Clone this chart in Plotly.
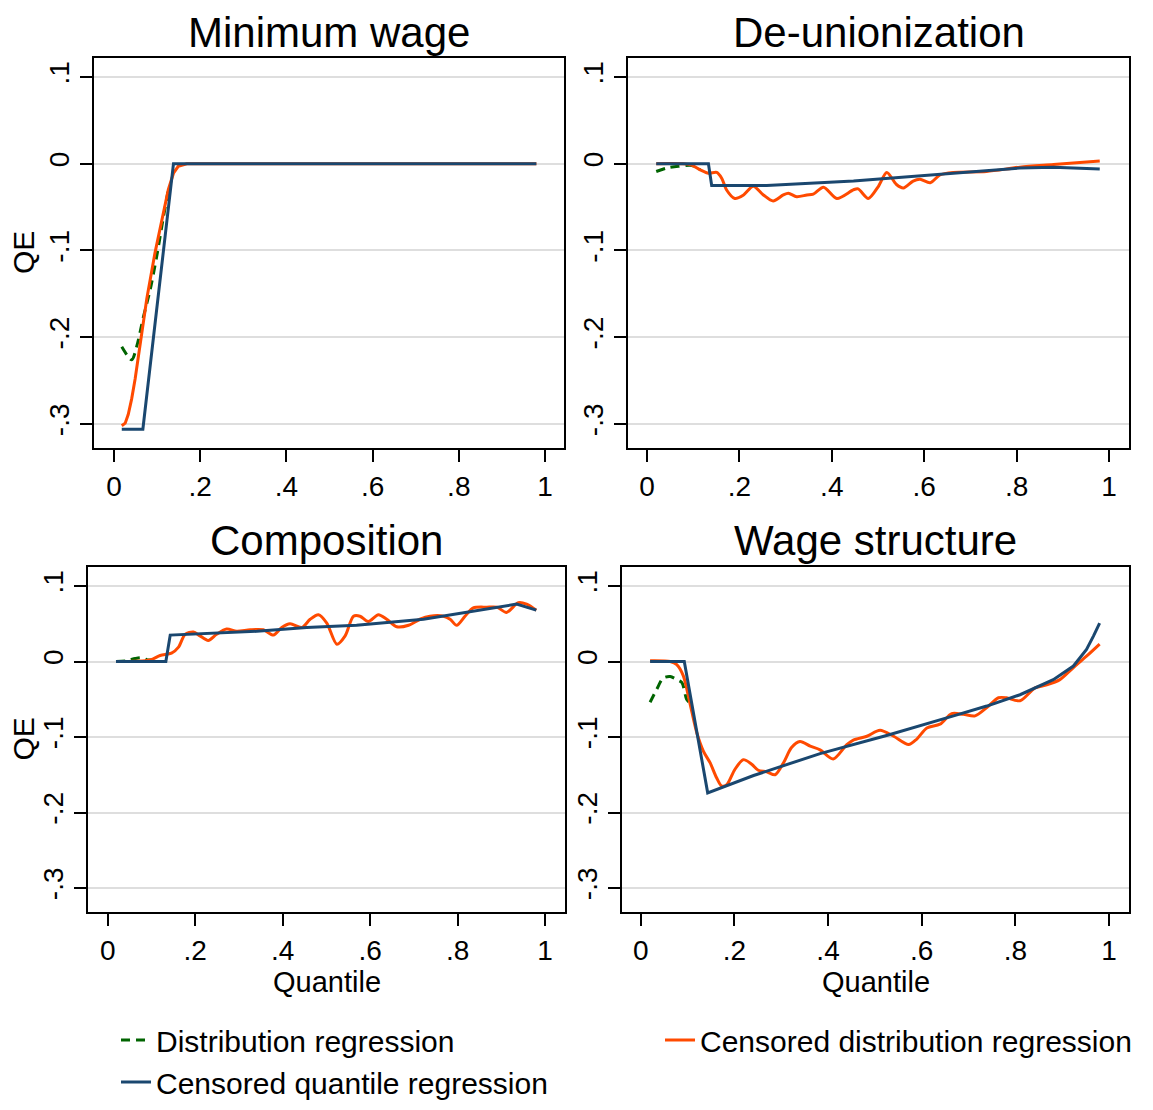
import plotly.graph_objects as go

# ---------------- data (quantile, QE) ----------------
# Panel 1: Minimum wage
mw_dr_q = [0.018, 0.041, 0.053, 0.068, 0.084, 0.099, 0.111, 0.126]
mw_dr_v = [-0.211, -0.226, -0.210, -0.177, -0.145, -0.107, -0.072, -0.030]
mw_cdr_q = [0.018, 0.026, 0.033, 0.041, 0.049, 0.060, 0.076, 0.095, 0.111, 0.126, 0.138, 0.149, 0.169, 0.98]
mw_cdr_v = [-0.302, -0.299, -0.289, -0.271, -0.248, -0.210, -0.156, -0.103, -0.064, -0.030, -0.011, -0.003, 0.0, 0.0]
mw_cqr_q = [0.018, 0.067, 0.138, 0.98]
mw_cqr_v = [-0.306, -0.306, 0.0, 0.0]

# Panel 2: De-unionization
du_dr_q = [0.020, 0.043, 0.068, 0.097, 0.115]
du_dr_v = [-0.009, -0.005, -0.003, -0.002, -0.007]
du_cdr_q = [0.020, 0.093, 0.115, 0.133, 0.151, 0.162, 0.172, 0.190, 0.209, 0.230, 0.252, 0.273,
            0.295, 0.306, 0.324, 0.346, 0.360, 0.382, 0.411, 0.447, 0.457, 0.479, 0.501, 0.519,
            0.540, 0.555, 0.576, 0.591, 0.613, 0.634, 0.663, 0.735, 0.807, 0.880, 0.98]
du_cdr_v = [0.0, -0.001, -0.007, -0.011, -0.010, -0.017, -0.030, -0.040, -0.036, -0.026, -0.036, -0.043,
            -0.036, -0.034, -0.038, -0.036, -0.035, -0.027, -0.040, -0.030, -0.029, -0.040, -0.026, -0.010,
            -0.024, -0.028, -0.020, -0.018, -0.022, -0.013, -0.010, -0.009, -0.004, -0.001, 0.003]
du_cqr_q = [0.020, 0.133, 0.140, 0.259, 0.447, 0.634, 0.807, 0.880, 0.98]
du_cqr_v = [0.0, 0.0, -0.025, -0.025, -0.020, -0.012, -0.005, -0.004, -0.006]

# Panel 3: Composition
co_dr_q = [0.019, 0.043, 0.063, 0.078, 0.093, 0.100]
co_dr_v = [0.0, 0.001, 0.004, 0.005, 0.002, 0.002]
co_cdr_q = [0.019, 0.097, 0.120, 0.146, 0.162, 0.177, 0.196, 0.211, 0.230, 0.249, 0.272, 0.295,
            0.326, 0.356, 0.379, 0.398, 0.417, 0.444, 0.463, 0.482, 0.501, 0.524, 0.543, 0.562,
            0.577, 0.596, 0.619, 0.638, 0.661, 0.688, 0.714, 0.737, 0.768, 0.783, 0.798, 0.817,
            0.836, 0.867, 0.890, 0.912, 0.939, 0.958, 0.98]
co_cdr_v = [0.0, 0.002, 0.008, 0.011, 0.019, 0.036, 0.039, 0.034, 0.028, 0.036, 0.043, 0.040,
            0.042, 0.042, 0.035, 0.045, 0.050, 0.045, 0.056, 0.062, 0.051, 0.023, 0.034, 0.060,
            0.060, 0.053, 0.062, 0.056, 0.046, 0.048, 0.056, 0.060, 0.060, 0.056, 0.048, 0.060,
            0.071, 0.072, 0.072, 0.065, 0.078, 0.076, 0.068]
co_cqr_q = [0.019, 0.133, 0.143, 0.341, 0.455, 0.569, 0.722, 0.821, 0.874, 0.935, 0.98]
co_cqr_v = [0.0, 0.0, 0.035, 0.040, 0.045, 0.048, 0.056, 0.065, 0.070, 0.076, 0.068]

# Panel 4: Wage structure
ws_dr_q = [0.020, 0.034, 0.048, 0.063, 0.077, 0.088, 0.098, 0.105]
ws_dr_v = [-0.054, -0.037, -0.022, -0.020, -0.024, -0.028, -0.050, -0.055]
ws_cdr_q = [0.020, 0.063, 0.077, 0.091, 0.105, 0.120, 0.134, 0.148, 0.162, 0.173, 0.184, 0.201,
            0.219, 0.237, 0.251, 0.269, 0.287, 0.305, 0.322, 0.340, 0.362, 0.383, 0.411, 0.440,
            0.454, 0.483, 0.511, 0.540, 0.572, 0.589, 0.611, 0.639, 0.664, 0.689, 0.714, 0.739,
            0.764, 0.781, 0.810, 0.842, 0.867, 0.895, 0.924, 0.952, 0.98]
ws_cdr_v = [0.001, 0.0, -0.004, -0.019, -0.055, -0.095, -0.119, -0.134, -0.154, -0.165, -0.163, -0.143,
            -0.130, -0.136, -0.144, -0.146, -0.150, -0.134, -0.114, -0.106, -0.112, -0.117, -0.129, -0.110,
            -0.104, -0.099, -0.091, -0.099, -0.110, -0.103, -0.088, -0.083, -0.069, -0.070, -0.072, -0.061,
            -0.048, -0.048, -0.052, -0.035, -0.031, -0.024, -0.008, 0.007, 0.023]
ws_cqr_q = [0.020, 0.093, 0.143, 0.241, 0.383, 0.525, 0.668, 0.739, 0.810, 0.881, 0.924, 0.952, 0.967, 0.98]
ws_cqr_v = [0.0, 0.0, -0.174, -0.151, -0.122, -0.098, -0.072, -0.059, -0.044, -0.024, -0.006, 0.016, 0.034, 0.051]

panel_titles = ["Minimum wage", "De-unionization", "Composition", "Wage structure"]
series_names = ["Distribution regression", "Censored distribution regression", "Censored quantile regression"]
x_tickvals = [0, 0.2, 0.4, 0.6, 0.8, 1]
x_ticktext = ["0", ".2", ".4", ".6", ".8", "1"]
y_tickvals = [0.1, 0, -0.1, -0.2, -0.3]
y_ticktext = [".1", "0", "-.1", "-.2", "-.3"]

# ---------------- geometry ----------------
# The page body has an 8px margin, so the figure is shrunk and all page
# positions are converted into figure coordinates.
OFF = 8
W, H = 1153 - 2 * OFF, 1110 - 2 * OFF


def px(p):
    return (p - OFF) / W


def py(p):
    return 1 - (p - OFF) / H


FONT = "Liberation Sans, Arial, Helvetica, sans-serif"
C_DR = "#006400"
C_CDR = "#ff4a00"
C_CQR = "#1a476f"
LW = 3

panels = [
    (mw_dr_q, mw_dr_v, mw_cdr_q, mw_cdr_v, mw_cqr_q, mw_cqr_v, "linear"),
    (du_dr_q, du_dr_v, du_cdr_q, du_cdr_v, du_cqr_q, du_cqr_v, "spline"),
    (co_dr_q, co_dr_v, co_cdr_q, co_cdr_v, co_cqr_q, co_cqr_v, "spline"),
    (ws_dr_q, ws_dr_v, ws_cdr_q, ws_cdr_v, ws_cqr_q, ws_cqr_v, "spline"),
]

fig = go.Figure()
legends = ["legend", "legend2", "legend3"]
for i, (dq, dv, cq, cv, qq, qv, shp) in enumerate(panels):
    ax = "" if i == 0 else str(i + 1)
    fig.add_trace(go.Scatter(x=dq, y=dv, mode="lines", name=series_names[0],
                             line=dict(color=C_DR, width=LW, dash="9px,6px", shape="spline", smoothing=0.8),
                             xaxis="x" + ax, yaxis="y" + ax, showlegend=(i == 0), legend=legends[0]))
    fig.add_trace(go.Scatter(x=cq, y=cv, mode="lines", name=series_names[1],
                             line=dict(color=C_CDR, width=LW, shape=shp, smoothing=0.8),
                             xaxis="x" + ax, yaxis="y" + ax, showlegend=(i == 0), legend=legends[1]))
    fig.add_trace(go.Scatter(x=qq, y=qv, mode="lines", name=series_names[2],
                             line=dict(color=C_CQR, width=LW),
                             xaxis="x" + ax, yaxis="y" + ax, showlegend=(i == 0), legend=legends[2]))

# panel frames in page pixels: (left, right, top, bottom), x-range, y-range
frames = [
    ((94, 564, 58, 448), [-0.0464, 1.0441], [-0.3276, 0.1218]),
    ((628, 1129, 58, 448), [-0.0411, 1.0433], [-0.3276, 0.1218]),
    ((88, 565, 567, 912), [-0.045, 1.0457], [-0.3318, 0.1252]),
    ((622, 1129, 567, 912), [-0.040, 1.0427], [-0.3318, 0.1252]),
]

layout = dict(
    width=W, height=H,
    margin=dict(l=0, r=0, t=0, b=0, pad=0, autoexpand=False),
    paper_bgcolor="white", plot_bgcolor="white",
    font=dict(family=FONT, size=30, color="black"),
    showlegend=True,
)
axis_common = dict(showline=True, linecolor="black", linewidth=2, mirror=True,
                   ticks="outside", ticklen=12, tickwidth=2, tickcolor="black",
                   zeroline=False, tickfont=dict(family=FONT, size=28, color="black"))
for i, ((l, r, t, b), xr, yr) in enumerate(frames):
    ax = "" if i == 0 else str(i + 1)
    layout["xaxis" + ax] = dict(axis_common, domain=[px(l), px(r)], range=xr, anchor="y" + ax,
                                tickmode="array", tickvals=x_tickvals, ticktext=x_ticktext,
                                showgrid=False)
    layout["yaxis" + ax] = dict(axis_common, domain=[py(b), py(t)], range=yr, anchor="x" + ax,
                                tickmode="array", tickvals=y_tickvals, ticktext=y_ticktext,
                                tickangle=-90, showgrid=True, gridcolor="#dedede", gridwidth=2)

annotations = []
title_y = [33, 33, 540, 540]
for i, ((l, r, t, b), xr, yr) in enumerate(frames):
    annotations.append(dict(text=panel_titles[i], x=px((l + r) / 2), y=py(title_y[i]),
                            xref="paper", yref="paper", xanchor="center", yanchor="middle",
                            showarrow=False, borderpad=0,
                            font=dict(family=FONT, size=42, color="black")))
for i in (0, 2):
    (l, r, t, b), _, _ = frames[i]
    annotations.append(dict(text="QE", x=px(23), y=py((t + b) / 2), xref="paper", yref="paper",
                            xanchor="center", yanchor="middle", textangle=-90, showarrow=False,
                            font=dict(family=FONT, size=30, color="black")))
for i in (2, 3):
    (l, r, t, b), _, _ = frames[i]
    annotations.append(dict(text="Quantile", x=px((l + r) / 2), y=py(982), xref="paper", yref="paper",
                            xanchor="center", yanchor="middle", showarrow=False,
                            font=dict(family=FONT, size=29, color="black")))
layout["annotations"] = annotations

leg_common = dict(orientation="h", xanchor="left", yanchor="middle", bgcolor="rgba(0,0,0,0)",
                  borderwidth=0, font=dict(family=FONT, size=30, color="black"), itemwidth=30)
layout["legend"] = dict(leg_common, x=px(116), y=py(1040))
layout["legend2"] = dict(leg_common, x=px(660), y=py(1040))
layout["legend3"] = dict(leg_common, x=px(116), y=py(1082))

fig.update_layout(**layout)
fig.write_html("out.html")
